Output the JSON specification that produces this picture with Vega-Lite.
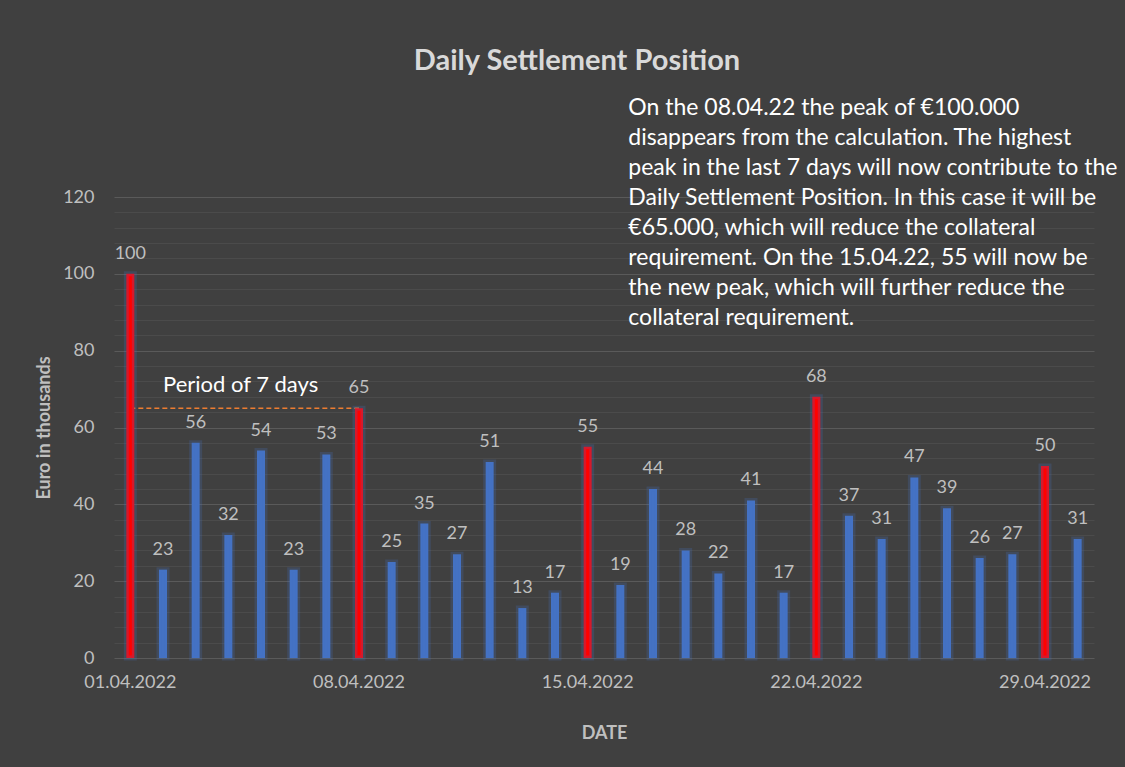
{
  "$schema": "https://vega.github.io/schema/vega-lite/v6.json",
  "width": 980,
  "height": 461,
  "autosize": {"type": "none"},
  "padding": {"left": 114, "top": 197, "right": 31, "bottom": 109},
  "background": "#404040",
  "config": {"font": "Lato", "view": {"stroke": null}},
  "title": {
    "text": "Daily Settlement Position",
    "font": "Lato",
    "fontSize": 29,
    "fontWeight": "bold",
    "color": "#d9d9d9",
    "anchor": "middle",
    "frame": "group",
    "dx": -27,
    "offset": 21
  },
  "datasets": {
    "days": [
      {"date": "01.04.2022", "value": 100, "peak": "yes"},
      {"date": "02.04.2022", "value": 23, "peak": "no"},
      {"date": "03.04.2022", "value": 56, "peak": "no"},
      {"date": "04.04.2022", "value": 32, "peak": "no"},
      {"date": "05.04.2022", "value": 54, "peak": "no"},
      {"date": "06.04.2022", "value": 23, "peak": "no"},
      {"date": "07.04.2022", "value": 53, "peak": "no"},
      {"date": "08.04.2022", "value": 65, "peak": "yes"},
      {"date": "09.04.2022", "value": 25, "peak": "no"},
      {"date": "10.04.2022", "value": 35, "peak": "no"},
      {"date": "11.04.2022", "value": 27, "peak": "no"},
      {"date": "12.04.2022", "value": 51, "peak": "no"},
      {"date": "13.04.2022", "value": 13, "peak": "no"},
      {"date": "14.04.2022", "value": 17, "peak": "no"},
      {"date": "15.04.2022", "value": 55, "peak": "yes"},
      {"date": "16.04.2022", "value": 19, "peak": "no"},
      {"date": "17.04.2022", "value": 44, "peak": "no"},
      {"date": "18.04.2022", "value": 28, "peak": "no"},
      {"date": "19.04.2022", "value": 22, "peak": "no"},
      {"date": "20.04.2022", "value": 41, "peak": "no"},
      {"date": "21.04.2022", "value": 17, "peak": "no"},
      {"date": "22.04.2022", "value": 68, "peak": "yes"},
      {"date": "23.04.2022", "value": 37, "peak": "no"},
      {"date": "24.04.2022", "value": 31, "peak": "no"},
      {"date": "25.04.2022", "value": 47, "peak": "no"},
      {"date": "26.04.2022", "value": 39, "peak": "no"},
      {"date": "27.04.2022", "value": 26, "peak": "no"},
      {"date": "28.04.2022", "value": 27, "peak": "no"},
      {"date": "29.04.2022", "value": 50, "peak": "yes"},
      {"date": "30.04.2022", "value": 31, "peak": "no"}
    ],
    "period": [
      {"from": "01.04.2022", "to": "08.04.2022", "level": 65}
    ],
    "periodLabel": [
      {"date": "02.04.2022", "level": 71, "note": "Period of 7 days"}
    ],
    "note": [
      {"date": "16.04.2022", "level": 146, "note": "On the 08.04.22 the peak of €100.000\ndisappears from the calculation. The highest\npeak in the last 7 days will now contribute to the\nDaily Settlement Position. In this case it will be\n€65.000, which will reduce the collateral\nrequirement. On the 15.04.22, 55 will now be\nthe new peak, which will further reduce the\ncollateral requirement."}
    ]
  },
  "layer": [
    {
      "data": {"name": "period"},
      "mark": {"type": "rule", "color": "#ed7d31", "strokeWidth": 1.5, "strokeDash": [5, 3]},
      "encoding": {
        "x": {"field": "from", "type": "ordinal"},
        "x2": {"field": "to"},
        "y": {
          "field": "level",
          "type": "quantitative",
          "axis": {
            "orient": "left",
            "values": [4, 8, 12, 16, 24, 28, 32, 36, 44, 48, 52, 56, 64, 68, 72, 76, 84, 88, 92, 96, 104, 108, 112, 116],
            "grid": true,
            "gridColor": "#4b4b4b",
            "gridWidth": 1,
            "labels": false,
            "ticks": false,
            "domain": false,
            "title": null
          }
        }
      }
    },
    {
      "data": {"name": "days"},
      "mark": {"type": "bar", "width": 8, "stroke": "#4472c4", "strokeWidth": 5, "strokeOpacity": 0.22},
      "encoding": {
        "x": {
          "field": "date",
          "type": "ordinal",
          "scale": {"paddingInner": 0.75, "paddingOuter": 0.375},
          "axis": {
            "values": ["01.04.2022", "08.04.2022", "15.04.2022", "22.04.2022", "29.04.2022"],
            "labelAngle": 0,
            "labelAlign": "center",
            "labelBaseline": "top",
            "ticks": false,
            "domain": false,
            "grid": false,
            "labelColor": "#bfbfbf",
            "labelFontSize": 18,
            "labelPadding": 15,
            "title": "DATE",
            "titleColor": "#bfbfbf",
            "titleFontSize": 18,
            "titleFontWeight": "bold",
            "titlePadding": 33
          }
        },
        "y": {
          "field": "value",
          "type": "quantitative",
          "scale": {"domain": [0, 120]},
          "axis": {
            "orient": "left",
            "values": [0, 20, 40, 60, 80, 100, 120],
            "grid": true,
            "gridColor": "#5a5a5a",
            "domain": false,
            "ticks": false,
            "labelColor": "#bfbfbf",
            "labelFontSize": 18,
            "labelPadding": 20,
            "title": "Euro in thousands",
            "titleColor": "#bfbfbf",
            "titleFontSize": 18,
            "titleFontWeight": "bold",
            "titlePadding": 9
          }
        },
        "color": {
          "field": "peak",
          "type": "nominal",
          "scale": {"domain": ["yes", "no"], "range": ["#ff0000", "#4472c4"]},
          "legend": null
        }
      }
    },
    {
      "data": {"name": "days"},
      "mark": {"type": "text", "baseline": "alphabetic", "dy": -15, "fontSize": 18, "color": "#bfbfbf"},
      "encoding": {
        "x": {"field": "date", "type": "ordinal"},
        "y": {"field": "value", "type": "quantitative", "axis": null},
        "text": {"field": "value", "type": "quantitative"}
      }
    },
    {
      "data": {"name": "periodLabel"},
      "mark": {"type": "text", "align": "left", "baseline": "middle", "fontSize": 22, "color": "#ffffff"},
      "encoding": {
        "x": {"field": "date", "type": "ordinal"},
        "y": {"field": "level", "type": "quantitative", "axis": null},
        "text": {"field": "note", "type": "nominal"}
      }
    },
    {
      "data": {"name": "note"},
      "mark": {"type": "text", "align": "left", "baseline": "top", "dx": 8, "fontSize": 23, "lineHeight": 30, "lineBreak": "\n", "color": "#ffffff"},
      "encoding": {
        "x": {"field": "date", "type": "ordinal"},
        "y": {"field": "level", "type": "quantitative", "axis": null},
        "text": {"field": "note", "type": "nominal"}
      }
    }
  ],
  "resolve": {"axis": {"y": "independent"}}
}
